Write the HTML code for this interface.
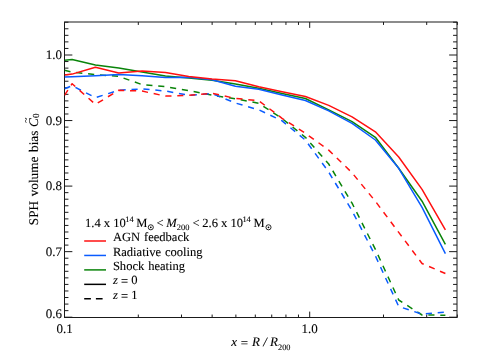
<!DOCTYPE html><html><head><meta charset="utf-8"><title>SPH volume bias</title><style>html,body{margin:0;padding:0;background:#fff;font-family:"Liberation Serif",serif}svg{display:block;will-change:transform}text{font-family:"Liberation Serif",serif;font-kerning:none;text-rendering:geometricPrecision;white-space:pre}</style></head><body>
<svg width="477" height="361" viewBox="0 0 477 361">
<rect width="477" height="361" fill="#fff"/>
<rect x="64.5" y="22.0" width="392.5" height="295.5" fill="none" stroke="#1a1a1a" stroke-width="1"/>
<path d="M64.5 317.20h7.85M457.0 317.20h-7.85M64.5 310.64h3.95M457.0 310.64h-3.95M64.5 304.09h3.95M457.0 304.09h-3.95M64.5 297.53h3.95M457.0 297.53h-3.95M64.5 290.98h3.95M457.0 290.98h-3.95M64.5 284.42h3.95M457.0 284.42h-3.95M64.5 277.87h3.95M457.0 277.87h-3.95M64.5 271.31h3.95M457.0 271.31h-3.95M64.5 264.76h3.95M457.0 264.76h-3.95M64.5 258.21h3.95M457.0 258.21h-3.95M64.5 251.65h7.85M457.0 251.65h-7.85M64.5 245.10h3.95M457.0 245.10h-3.95M64.5 238.54h3.95M457.0 238.54h-3.95M64.5 231.99h3.95M457.0 231.99h-3.95M64.5 225.43h3.95M457.0 225.43h-3.95M64.5 218.88h3.95M457.0 218.88h-3.95M64.5 212.32h3.95M457.0 212.32h-3.95M64.5 205.76h3.95M457.0 205.76h-3.95M64.5 199.21h3.95M457.0 199.21h-3.95M64.5 192.65h3.95M457.0 192.65h-3.95M64.5 186.10h7.85M457.0 186.10h-7.85M64.5 179.54h3.95M457.0 179.54h-3.95M64.5 172.99h3.95M457.0 172.99h-3.95M64.5 166.44h3.95M457.0 166.44h-3.95M64.5 159.88h3.95M457.0 159.88h-3.95M64.5 153.33h3.95M457.0 153.33h-3.95M64.5 146.77h3.95M457.0 146.77h-3.95M64.5 140.22h3.95M457.0 140.22h-3.95M64.5 133.66h3.95M457.0 133.66h-3.95M64.5 127.10h3.95M457.0 127.10h-3.95M64.5 120.55h7.85M457.0 120.55h-7.85M64.5 113.99h3.95M457.0 113.99h-3.95M64.5 107.44h3.95M457.0 107.44h-3.95M64.5 100.88h3.95M457.0 100.88h-3.95M64.5 94.33h3.95M457.0 94.33h-3.95M64.5 87.78h3.95M457.0 87.78h-3.95M64.5 81.22h3.95M457.0 81.22h-3.95M64.5 74.67h3.95M457.0 74.67h-3.95M64.5 68.11h3.95M457.0 68.11h-3.95M64.5 61.56h3.95M457.0 61.56h-3.95M64.5 55.00h7.85M457.0 55.00h-7.85M64.5 48.44h3.95M457.0 48.44h-3.95M64.5 41.89h3.95M457.0 41.89h-3.95M64.5 35.33h3.95M457.0 35.33h-3.95M64.5 28.78h3.95M457.0 28.78h-3.95M64.5 22.22h3.95M457.0 22.22h-3.95M64.50 317.5v-5.9M64.50 22.0v5.9M138.31 317.5v-2.95M138.31 22.0v2.95M181.49 317.5v-2.95M181.49 22.0v2.95M212.13 317.5v-2.95M212.13 22.0v2.95M235.89 317.5v-2.95M235.89 22.0v2.95M255.30 317.5v-2.95M255.30 22.0v2.95M271.72 317.5v-2.95M271.72 22.0v2.95M285.94 317.5v-2.95M285.94 22.0v2.95M298.48 317.5v-2.95M298.48 22.0v2.95M309.70 317.5v-5.9M309.70 22.0v5.9M383.51 317.5v-2.95M383.51 22.0v2.95M426.69 317.5v-2.95M426.69 22.0v2.95M457.33 317.5v-2.95M457.33 22.0v2.95" stroke="#1a1a1a" stroke-width="1" fill="none"/>
<clipPath id="c"><rect x="64.5" y="22.0" width="392.5" height="295.5"/></clipPath>
<g clip-path="url(#c)" fill="none" stroke-linejoin="round">
<polyline points="64.50,70.30 72.10,72.10 95.43,74.60 118.76,76.40 142.09,84.60 165.42,86.60 188.75,90.60 212.08,95.20 235.41,98.80 258.74,103.30 282.07,118.50 305.40,137.30 328.73,164.00 352.06,203.20 375.39,249.40 398.72,300.00 422.05,315.00 445.38,315.20" stroke="#0a840a" stroke-width="1.5" stroke-dasharray="6.15 5.8" stroke-dashoffset="0"/>
<polyline points="64.50,88.80 72.10,85.70 95.43,97.70 118.76,90.20 142.09,88.90 165.42,91.00 188.75,95.30 212.08,93.60 235.41,103.00 258.74,109.80 282.07,120.80 305.40,140.10 328.73,172.10 352.06,210.80 375.39,255.90 398.72,306.50 422.05,314.20 445.38,312.00" stroke="#0a5cff" stroke-width="1.5" stroke-dasharray="6.15 5.8" stroke-dashoffset="0"/>
<polyline points="64.50,95.30 72.10,83.70 95.43,104.40 118.76,90.20 142.09,91.10 165.42,96.10 188.75,95.30 212.08,93.30 235.41,98.40 258.74,100.70 282.07,118.30 305.40,133.30 328.73,150.10 352.06,172.80 375.39,201.30 398.72,232.40 422.05,263.50 445.38,273.50" stroke="#ff1010" stroke-width="1.5" stroke-dasharray="6.15 5.8" stroke-dashoffset="0"/>
<polyline points="64.50,60.30 72.10,59.50 95.43,64.90 118.76,67.90 142.09,72.10 165.42,76.00 188.75,78.10 212.08,80.20 235.41,84.00 258.74,88.30 282.07,93.50 305.40,98.50 328.73,109.80 352.06,121.70 375.39,137.30 398.72,168.30 422.05,201.20 445.38,244.30" stroke="#0a840a" stroke-width="1.5"/>
<polyline points="64.50,77.10 72.10,76.70 95.43,75.75 118.76,74.60 142.09,75.80 165.42,77.60 188.75,77.20 212.08,79.70 235.41,86.20 258.74,89.20 282.07,95.10 305.40,100.50 328.73,110.90 352.06,123.40 375.39,140.00 398.72,168.30 422.05,207.40 445.38,253.60" stroke="#0a5cff" stroke-width="1.5"/>
<polyline points="64.50,75.00 72.10,74.10 95.43,67.20 118.76,73.10 142.09,70.90 165.42,72.40 188.75,76.50 212.08,79.00 235.41,80.70 258.74,86.75 282.07,91.80 305.40,96.50 328.73,105.40 352.06,116.80 375.39,131.80 398.72,157.00 422.05,189.40 445.38,229.80" stroke="#ff1010" stroke-width="1.5"/>
</g>
<g fill="#000" stroke="#000" stroke-width="0.1"><text x="45.65" y="59.30" font-size="13">1.0</text><text x="45.65" y="124.85" font-size="13">0.9</text><text x="45.65" y="190.40" font-size="13">0.8</text><text x="45.65" y="255.95" font-size="13">0.7</text><text x="45.65" y="317.70" font-size="13">0.6</text><text x="56.38" y="333.10" font-size="13">0.1</text><text x="301.57" y="333.10" font-size="13">1.0</text><text x="231.36" y="346.40" font-size="13" font-style="italic">x</text><text x="240.70" y="347.20" font-size="13">=</text><text x="252.00" y="346.40" font-size="13" font-style="italic">R / R</text><text x="277.99" y="349.80" font-size="8.3">200</text></g>
<g transform="translate(37.5,225.2) rotate(-90)" fill="#000" stroke="#000" stroke-width="0.1"><text x="0.00" y="0.00" font-size="13.2">SPH</text><text x="28.97" y="0.00" font-size="13.2">volume</text><text x="73.31" y="0.00" font-size="13.2">bias</text><text x="98.32" y="0.00" font-size="13.2" font-style="italic">C</text><text x="107.13" y="1.80" font-size="9.2">0</text><text x="102.47" y="-8.27" font-size="9.5">~</text></g>
<circle cx="150.8" cy="227.3" r="2.55" fill="none" stroke="#000" stroke-width="0.85"/><circle cx="150.8" cy="227.3" r="0.85" fill="#000"/>
<circle cx="268.5" cy="227.3" r="2.55" fill="none" stroke="#000" stroke-width="0.85"/><circle cx="268.5" cy="227.3" r="0.85" fill="#000"/>
<line x1="84.2" y1="241.00" x2="106" y2="241.00" stroke="#ff1010" stroke-width="1.5"/>
<line x1="84.2" y1="255.45" x2="106" y2="255.45" stroke="#0a5cff" stroke-width="1.5"/>
<line x1="84.2" y1="269.90" x2="106" y2="269.90" stroke="#0a840a" stroke-width="1.5"/>
<line x1="84.2" y1="284.35" x2="106" y2="284.35" stroke="#000" stroke-width="1.5"/>
<line x1="84.2" y1="298.80" x2="106" y2="298.80" stroke="#000" stroke-width="1.5" stroke-dasharray="6.7 5"/>
<g fill="#000" stroke="#000" stroke-width="0.1"><text x="85.00" y="226.90" font-size="12.55">1.4 x 10</text><text x="125.30" y="221.90" font-size="8.4">14</text><text x="136.30" y="226.90" font-size="12.55">M</text><text x="156.50" y="226.90" font-size="12.55">&lt;</text><text x="166.30" y="226.90" font-size="12.55" font-style="italic">M</text><text x="176.80" y="229.90" font-size="8.4">200</text><text x="192.50" y="226.90" font-size="12.55">&lt;</text><text x="202.30" y="226.90" font-size="12.55">2.6 x 10</text><text x="242.40" y="221.90" font-size="8.4">14</text><text x="253.50" y="226.90" font-size="12.55">M</text><text x="112.90" y="241.10" font-size="12.55">AGN</text><text x="143.98" y="241.10" font-size="12.55">feedback</text><text x="112.90" y="255.55" font-size="12.55">Radiative</text><text x="164.88" y="255.55" font-size="12.55">cooling</text><text x="112.90" y="270.00" font-size="12.55">Shock</text><text x="148.16" y="270.00" font-size="12.55">heating</text><text x="112.90" y="284.45" font-size="12.55" font-style="italic">z</text><text x="120.92" y="285.05" font-size="12.55">=</text><text x="131.14" y="284.45" font-size="12.55">0</text><text x="112.90" y="298.90" font-size="12.55" font-style="italic">z</text><text x="120.92" y="299.50" font-size="12.55">=</text><text x="131.14" y="298.90" font-size="12.55">1</text></g>
</svg></body></html>
